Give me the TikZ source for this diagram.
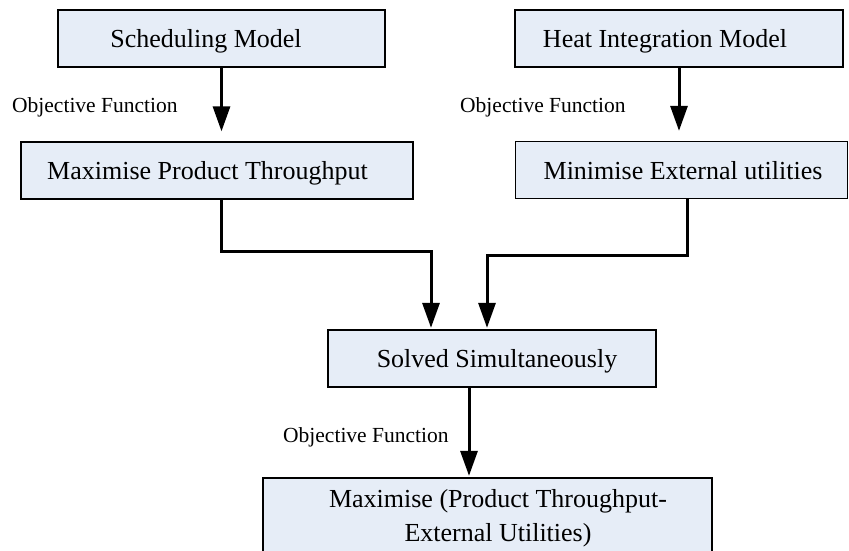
\documentclass[tikz,border=0pt]{standalone}
\usepackage{fontspec}
\setmainfont{Liberation Serif}
\usetikzlibrary{arrows.meta}
\definecolor{boxfill}{RGB}{230,237,247}
\begin{document}
\begin{tikzpicture}[x=1pt,y=-1pt,
  box/.style={draw=black, line width=1.3pt, fill=boxfill, rectangle, minimum height=57pt, inner sep=0pt},
  boxtext/.style={font=\fontsize{26}{34}\selectfont, inner sep=0pt, align=center},
  oneline/.style={text height=17.8pt, text depth=5.6pt},
  objlabel/.style={font=\fontsize{21.5}{26}\selectfont, inner sep=0pt, anchor=base west},
  flow/.style={line width=3pt, -{Triangle[length=25pt,width=17pt]}},
]
\useasboundingbox (0,0) rectangle (849,551);
% boxes
\node[box, minimum width=327pt, label={[boxtext, oneline, xshift=-15.5pt, yshift=-2.6pt]center:Scheduling Model}] (sched) at (221.5,38.5) {};
\node[box, minimum width=392pt, label={[boxtext, oneline, xshift=-9.5pt, yshift=-3.2pt]center:Maximise Product Throughput}] (maxp) at (217,170.5) {};
\node[box, minimum width=328pt, label={[boxtext, oneline, xshift=-14pt, yshift=-2.6pt]center:Heat Integration Model}] (heat) at (679,38.5) {};
\node[box, minimum width=332pt, label={[boxtext, oneline, xshift=1.5pt, yshift=-3.2pt]center:Minimise External utilities}] (mine) at (681.5,170) {};
\node[box, minimum width=328pt, label={[boxtext, oneline, xshift=5pt, yshift=-2.6pt]center:Solved Simultaneously}] (solve) at (492,358.5) {};
\node[box, minimum width=449pt, minimum height=82pt, label={[boxtext, xshift=10.5pt, yshift=0.5pt]center:Maximise (Product Throughput-\\External Utilities)}] (final) at (487.5,519) {};
% labels
\node[objlabel] (obj1) at (12,113) {Objective Function};
\node[objlabel] (obj2) at (460,113) {Objective Function};
\node[objlabel] (obj3) at (283,442) {Objective Function};
% connectors
\draw[flow, shorten >=10pt] (sched.south) -- (sched.south |- maxp.north);
\draw[flow, shorten >=10pt] (heat.south) -- (heat.south |- mine.north);
\coordinate (m1) at ([xshift=4pt]maxp.south);
\coordinate (m2) at ([xshift=5.5pt]mine.south);
\coordinate (in1) at ([xshift=-61pt]solve.north);
\coordinate (in2) at ([xshift=-5pt]solve.north);
\draw[flow, shorten >=1.5pt] (m1) -- ++(0,51.5) -| (in1);
\draw[flow, shorten >=1.5pt] (m2) -- ++(0,56.5) -| (in2);
\coordinate (o1) at ([xshift=-23pt]solve.south);
\draw[flow, shorten >=1.5pt] (o1) -- (o1 |- final.north);
\end{tikzpicture}
\end{document}
